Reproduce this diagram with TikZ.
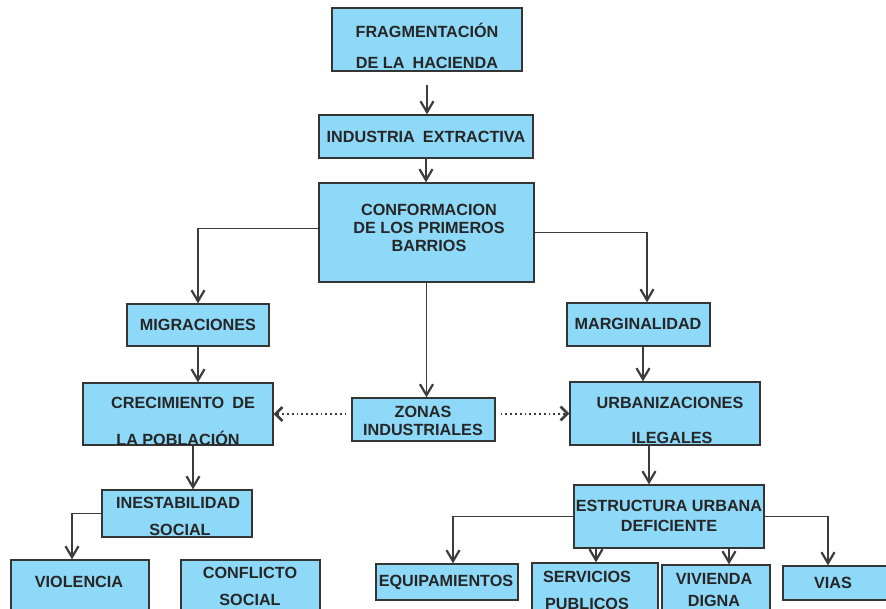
\documentclass[tikz,border=0pt]{standalone}
\usepackage{fontspec}
\setmainfont{Liberation Sans}
\usetikzlibrary{arrows.meta,calc}
\definecolor{boxfill}{HTML}{8ED8F8}
\definecolor{boxline}{HTML}{353535}
\definecolor{txtcol}{HTML}{262626}
\definecolor{linecol}{HTML}{3C3C3C}
\tikzset{
  box/.style={draw=boxline, fill=boxfill, line width=1.3pt, inner sep=0pt, rectangle},
  txt/.style={text=txtcol, font=\fontsize{16.2}{17.5}\selectfont\bfseries, inner sep=0pt, align=center},
  arr/.style={draw=linecol, line width=1.3pt, -{Straight Barb[length=11pt,width=13pt,line width=2.2pt]}},
  dotarr/.style={draw=linecol, line width=2pt, dash pattern=on 1.8pt off 3pt, -{Straight Barb[length=7pt,width=14pt,line width=2.6pt]}},
}
\newcommand{\bx}[5]{\node[box, minimum width={#4-#2}, minimum height={#5-#3}] (#1) at ({(#2+#4)/2},{(#3+#5)/2}) {};}
\newcommand{\dsp}{\hspace{0.5em}}
\begin{document}
\begin{tikzpicture}[x=1pt,y=-1pt]
\clip (0,0) rectangle (886,608);
\fill[white] (0,0) rectangle (886,608);
% boxes
\bx{frag}{332}{8}{522}{71}
\bx{ind}{319}{115}{533}{158}
\bx{conf}{319}{183}{534}{282}
\bx{migr}{127}{304}{269}{346}
\bx{marg}{567}{303}{710}{346}
\bx{crec}{83}{383}{273}{445}
\bx{zon}{352}{398}{495}{441}
\bx{urb}{570}{382}{760}{445}
\bx{inest}{102}{490}{252}{537}
\bx{viol}{11}{560}{149}{616}
\bx{confl}{181}{560}{320}{616}
\bx{estr}{574}{485}{764}{548}
\bx{equip}{376}{564}{518}{600}
\bx{serv}{532}{563}{658}{616}
\bx{viv}{662}{565}{770}{616}
\bx{vias}{783}{566}{892}{600}
% texts
\node[txt] (frag-a) at (427,30) {FRAGMENTACIÓN};
\node[txt] (frag-b) at (427,63) {DE LA\dsp HACIENDA};
\node[txt] (ind-a) at (426,137) {INDUSTRIA\dsp EXTRACTIVA};
\node[txt] (conf-a) at (429,228) {CONFORMACION\\[0.5pt]DE LOS PRIMEROS\\[0.5pt]BARRIOS};
\node[txt] (migr-a) at (198,325) {MIGRACIONES};
\node[txt] (marg-a) at (638,324) {MARGINALIDAD};
\node[txt] (crec-a) at (183,403) {CRECIMIENTO\dsp DE};
\node[txt] (crec-b) at (178,438) {LA POBLACIÓN};
\node[txt] (zon-a) at (423,421) {ZONAS\\INDUSTRIALES};
\node[txt] (urb-a) at (670,403) {URBANIZACIONES};
\node[txt] (urb-b) at (672,438) {ILEGALES};
\node[txt] (inest-a) at (178,503) {INESTABILIDAD};
\node[txt] (inest-b) at (180,530) {SOCIAL};
\node[txt] (viol-a) at (79,582) {VIOLENCIA};
\node[txt] (confl-a) at (250,573) {CONFLICTO};
\node[txt] (confl-b) at (250,600) {SOCIAL};
\node[txt] (estr-a) at (669,516) {ESTRUCTURA URBANA\\[2pt]DEFICIENTE};
\node[txt] (equip-a) at (446,582) {EQUIPAMIENTOS};
\node[txt] (serv-a) at (587,577) {SERVICIOS};
\node[txt] (serv-b) at (587,604) {PUBLICOS};
\node[txt] (viv-a) at (714,579) {VIVIENDA};
\node[txt] (viv-b) at (714,601) {DIGNA};
\node[txt] (vias-a) at (833,583) {VIAS};
% connectors
\draw[arr, shorten <=13pt] (frag.south) -- (frag.south |- ind.north);
\draw[arr] (ind.south) -- (ind.south |- conf.north);
\draw[arr] ([yshift=4pt]conf.west) -| (migr.north);
\draw[arr] (conf.east) -| ([xshift=8.5pt]marg.north);
\draw[arr] (conf.south) -- (conf.south |- zon.north);
\draw[arr] (migr.south) -- (migr.south |- crec.north);
\draw[arr] ([xshift=4.5pt]marg.south) -- ([xshift=4.5pt]marg.south |- urb.north);
\draw[dotarr, shorten <=5pt] (zon.west |- crec.east) -- (crec.east);
\draw[dotarr, shorten <=5pt] (zon.east |- urb.west) -- (urb.west);
\draw[arr] ([xshift=15pt]crec.south) -- ([xshift=15pt]crec.south |- inest.north);
\draw[arr] ([xshift=-16pt]urb.south) -- ([xshift=-16pt]urb.south |- estr.north);
\draw[arr] (inest.west) -| ([xshift=-8pt]viol.north);
\draw[arr] (estr.west) -| ([xshift=6pt]equip.north);
\draw[arr] ([xshift=-73pt]estr.south) -- ([xshift=-73pt]estr.south |- serv.north);
\draw[arr] ([xshift=60pt]estr.south) -- ([xshift=60pt]estr.south |- viv.north);
\draw[arr] (estr.east) -| ([xshift=-9.5pt]vias.north);
\end{tikzpicture}
\end{document}
